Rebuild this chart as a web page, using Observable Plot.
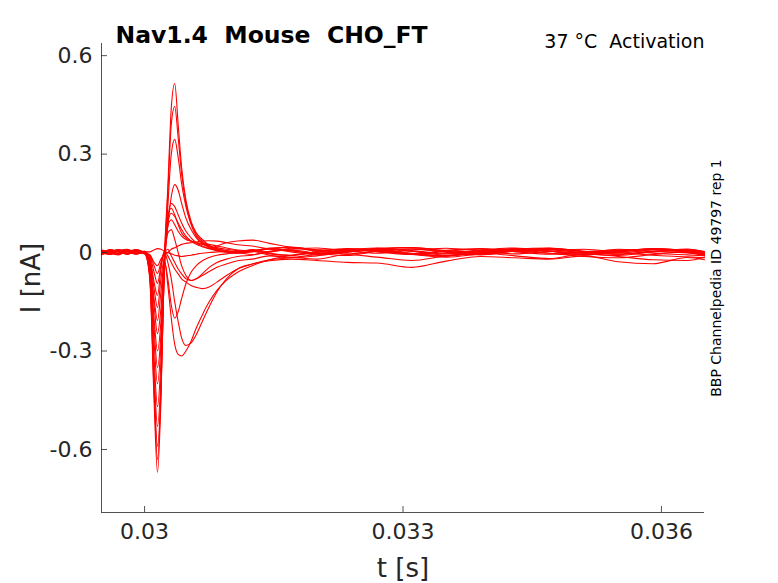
<!DOCTYPE html>
<html>
<head>
<meta charset="utf-8">
<script src="https://cdn.jsdelivr.net/npm/d3@7"></script>
<script src="https://cdn.jsdelivr.net/npm/@observablehq/plot@0.6"></script>
<style>
  html, body { margin: 0; padding: 0; background: #ffffff; }
  #chart { width: 778px; height: 583px; }
</style>
</head>
<body>
<div id="chart"></div>
<script>
// time grid (s)
const T = [0.02950,0.02960,0.02970,0.02980,0.02990,0.03000,
  0.03006,0.03011,0.03015,0.03019,0.03023,0.03027,0.03031,0.03035,0.03039,0.03043,0.03048,0.03054,0.03060,0.03067,0.03075,0.03084,0.03095,0.03108,
  0.03125,0.03145,0.03170,0.03200,0.03235,0.03270,0.03310,0.03350,0.03390,0.03430,0.03470,0.03510,0.03550,0.03590,0.03630,0.03650];

// current traces (nA)
const tr01 = [0.004,-0.006,0.008,0.003,-0.004,0.002, 0.002,0.008,0.012,0.010,0.004,0.000,-0.004,-0.008,-0.010,-0.012,-0.010,-0.008,-0.005,-0.002,0.000,0.002,0.003,0.002, 0.006,-0.004,-0.009,0.003,0.010,0.002,-0.006,0.004,0.011,0.003,-0.005,0.002,0.008,-0.002,-0.007,-0.010];
const tr02 = [-0.005,0.007,0.002,-0.006,0.009,-0.002, -0.006,-0.030,-0.040,-0.020,-0.005,0.000,0.010,0.015,0.020,0.025,0.028,0.030,0.032,0.035,0.036,0.035,0.030,0.024, 0.020,0.012,0.016,0.008,0.004,0.013,0.015,0.004,-0.002,0.010,0.014,0.004,0.002,0.012,0.006,0.001];
const tr03 = [0.006,-0.003,-0.007,0.005,0.002,-0.004, -0.008,-0.040,-0.064,-0.030,0.000,0.010,-0.010,-0.030,-0.050,-0.065,-0.080,-0.085,-0.080,-0.070,-0.058,-0.045,-0.035,-0.025, -0.020,-0.010,-0.014,-0.020,-0.006,-0.014,-0.024,-0.010,-0.002,-0.010,-0.018,-0.004,-0.012,-0.022,-0.024,-0.014];
const tr04 = [-0.002,0.008,0.003,-0.004,0.007,0.001, -0.010,-0.060,-0.094,-0.040,0.005,-0.010,-0.030,-0.050,-0.065,-0.080,-0.090,-0.100,-0.106,-0.110,-0.105,-0.090,-0.070,-0.050, -0.035,-0.025,-0.020,-0.024,-0.030,-0.032,-0.045,-0.026,-0.012,-0.016,-0.020,-0.010,-0.028,-0.034,-0.015,-0.022];
const tr05 = [0.007,-0.005,0.004,0.009,-0.003,0.003, -0.015,-0.090,-0.131,-0.050,0.000,-0.030,-0.080,-0.150,-0.210,-0.260,-0.283,-0.275,-0.250,-0.210,-0.165,-0.120,-0.080,-0.050, -0.035,-0.022,-0.016,-0.006,0.002,0.008,-0.004,-0.010,0.004,0.009,-0.002,-0.008,0.003,0.010,0.002,-0.006];
const tr06 = [-0.006,0.002,0.009,-0.002,0.005,-0.003, -0.020,-0.110,-0.168,-0.080,-0.020,-0.100,-0.200,-0.280,-0.310,-0.315,-0.300,-0.270,-0.230,-0.190,-0.150,-0.115,-0.085,-0.060, -0.040,-0.022,-0.008,0.000,0.006,0.010,-0.002,-0.010,0.002,0.010,0.004,-0.006,0.004,0.011,0.005,-0.003];
const tr07 = [0.003,0.006,-0.005,0.007,0.001,0.004, -0.025,-0.140,-0.207,-0.120,-0.030,-0.080,-0.160,-0.200,-0.180,-0.140,-0.095,-0.060,-0.040,-0.025,-0.015,-0.008,-0.004,-0.001, 0.004,0.010,0.002,-0.007,0.003,0.010,0.004,-0.008,-0.002,0.008,0.013,0.004,-0.005,0.003,0.009,0.002];
const tr08 = [-0.004,-0.001,0.006,0.010,-0.002,0.000, -0.030,-0.160,-0.247,-0.170,-0.020,0.060,0.070,0.040,0.000,-0.040,-0.070,-0.085,-0.080,-0.065,-0.045,-0.030,-0.020,-0.012, -0.008,0.002,0.008,-0.002,-0.009,0.004,0.011,0.001,-0.007,0.004,0.010,-0.002,-0.009,0.002,0.008,-0.002];
const tr09 = [0.008,0.003,-0.004,0.002,0.006,-0.001, -0.035,-0.200,-0.300,-0.210,-0.010,0.080,0.100,0.085,0.065,0.050,0.040,0.035,0.030,0.025,0.020,0.015,0.010,0.006, 0.004,-0.008,-0.016,-0.010,0.002,0.006,-0.006,-0.014,-0.004,0.005,-0.002,-0.012,-0.016,-0.006,0.003,-0.008];
const tr10 = [-0.007,0.005,0.001,0.008,0.000,0.003, -0.040,-0.230,-0.350,-0.250,-0.020,0.090,0.120,0.110,0.090,0.070,0.050,0.035,0.025,0.018,0.012,0.020,0.030,0.035, 0.038,0.028,0.016,0.008,0.010,0.014,0.004,-0.004,0.006,0.012,0.004,-0.002,0.006,0.010,0.002,-0.006];
const tr11 = [0.002,-0.006,0.007,0.004,-0.005,0.002, -0.045,-0.270,-0.400,-0.280,-0.030,0.110,0.135,0.115,0.085,0.060,0.045,0.035,0.030,0.028,0.025,0.020,0.014,0.008, 0.006,0.014,0.016,0.008,0.002,0.012,0.006,-0.002,0.008,0.014,0.005,0.000,0.010,0.004,0.011,0.003];
const tr12 = [0.005,0.001,-0.006,0.006,0.008,-0.002, -0.050,-0.320,-0.470,-0.330,-0.040,0.100,0.150,0.140,0.115,0.090,0.065,0.045,0.030,0.020,0.012,0.006,0.002,0.000, 0.008,-0.002,-0.008,0.003,0.012,0.006,-0.004,-0.010,0.000,0.006,0.011,0.003,-0.005,0.003,-0.001,-0.009];
const tr13 = [-0.003,0.009,0.002,-0.005,0.004,0.001, -0.060,-0.360,-0.530,-0.380,-0.050,0.080,0.170,0.207,0.190,0.150,0.105,0.070,0.045,0.028,0.015,0.006,0.001,-0.002, 0.002,0.012,0.006,-0.004,0.002,0.010,0.015,0.006,0.000,0.010,0.004,-0.006,0.002,0.012,0.006,0.002];
const tr14 = [0.006,-0.004,0.005,0.001,0.009,-0.003, -0.070,-0.400,-0.590,-0.420,-0.040,0.140,0.300,0.345,0.290,0.210,0.140,0.085,0.050,0.030,0.018,0.008,0.003,0.000, -0.006,0.004,0.010,0.014,0.005,-0.002,0.008,0.013,0.005,-0.004,0.004,0.010,0.001,-0.008,-0.013,-0.016];
const tr15 = [-0.005,0.004,0.008,-0.003,0.002,0.004, -0.070,-0.420,-0.630,-0.430,-0.030,0.180,0.390,0.445,0.350,0.240,0.150,0.090,0.055,0.035,0.020,0.010,0.005,0.002, 0.009,0.002,0.013,0.005,-0.004,0.004,0.011,0.002,-0.006,0.006,0.012,0.003,-0.002,0.008,0.002,-0.005];
const tr16 = [0.001,0.007,-0.003,0.006,-0.004,0.000, -0.080,-0.450,-0.670,-0.450,-0.020,0.200,0.440,0.515,0.390,0.260,0.160,0.095,0.060,0.040,0.022,0.012,0.006,0.003, 0.005,0.012,0.006,-0.003,0.009,0.005,-0.005,0.007,0.012,0.003,0.009,0.001,0.006,0.011,0.000,-0.007];

const xDomain = [0.0295, 0.0365];
const yDomain = [-0.792, 0.637];
const xTicks = [0.03, 0.033, 0.036];
const yTicks = [-0.6, -0.3, 0, 0.3, 0.6];

const titleText = "Nav1.4\u00a0\u00a0Mouse\u00a0\u00a0CHO_FT";
const condText = "37 °C\u00a0\u00a0Activation";
const sideText = "BBP Channelpedia ID 49797 rep 1";
const xLabel = "t [s]";
const yLabel = "I [nA]";

const traces = [tr01,tr02,tr03,tr04,tr05,tr06,tr07,tr08,tr09,tr10,tr11,tr12,tr13,tr14,tr15,tr16];
const rows = traces.flatMap((vals, i) => vals.map((v, j) => ({t: T[j], I: v, id: i})));

const W = 778, H = 583, mL = 101, mR = 74, mT = 43, mB = 71;
const axisColor = "#262626";

const chart = Plot.plot({
  width: W, height: H,
  marginLeft: mL, marginRight: mR, marginTop: mT, marginBottom: mB,
  style: {fontFamily: "DejaVu Sans", fontSize: "22px", background: "#ffffff", color: axisColor, overflow: "visible"},
  x: {domain: xDomain, ticks: xTicks, tickSize: 0, tickPadding: 11, tickFormat: d => String(d), label: null},
  y: {domain: yDomain, ticks: yTicks, tickSize: 0, tickPadding: 9, tickFormat: d => String(d), label: null},
  marks: [
    Plot.line(rows, {x: "t", y: "I", z: "id", stroke: "#ff0000", strokeWidth: 1.1, curve: "monotone-x"}),
    Plot.ruleX([xDomain[0]], {stroke: axisColor, strokeWidth: 0.8}),
    Plot.ruleY([yDomain[0]], {stroke: axisColor, strokeWidth: 0.8}),
    Plot.tickY(yTicks, {y: d => d, insetRight: W - mL - mR - 6, stroke: axisColor, strokeWidth: 0.8}),
    Plot.tickX(xTicks, {x: d => d, insetTop: H - mT - mB - 6, stroke: axisColor, strokeWidth: 0.8}),
    Plot.text([titleText], {frameAnchor: "top-left", dx: 14, dy: -1, textAnchor: "start", lineAnchor: "bottom", fontSize: 23.5, fontWeight: "bold", fill: "#000000"}),
    Plot.text([condText], {frameAnchor: "top-right", dx: 0, dy: 4, textAnchor: "end", lineAnchor: "bottom", fontSize: 19, fill: "#000000"}),
    Plot.text([sideText], {frameAnchor: "right", dx: 12, rotate: -90, textAnchor: "middle", lineAnchor: "middle", fontSize: 14, fill: "#000000"}),
    Plot.text([xLabel], {frameAnchor: "bottom", dy: 56, textAnchor: "middle", lineAnchor: "middle", fontSize: 26, fill: axisColor}),
    Plot.text([yLabel], {frameAnchor: "left", dx: -70, rotate: -90, textAnchor: "middle", lineAnchor: "middle", fontSize: 26, fill: axisColor})
  ]
});
document.getElementById("chart").appendChild(chart);
</script>
</body>
</html>
